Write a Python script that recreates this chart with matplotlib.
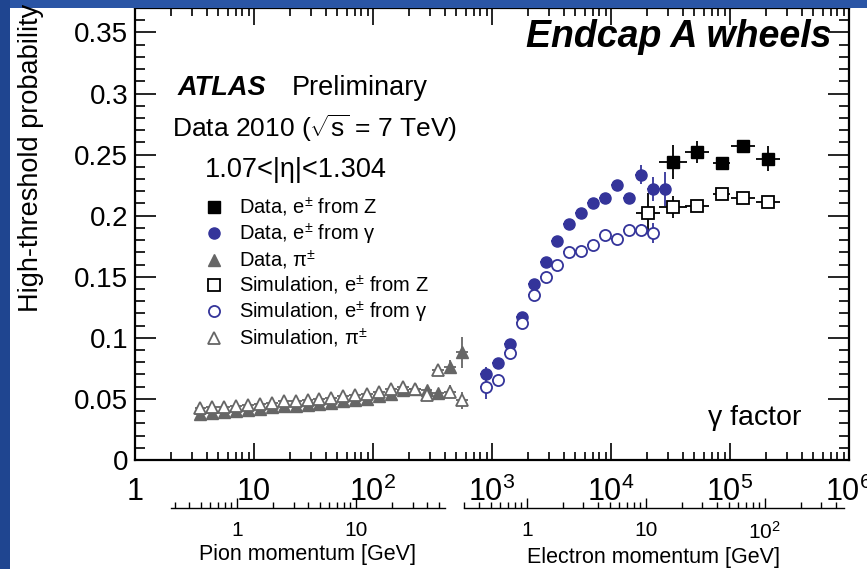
import numpy as np
import matplotlib
matplotlib.use('Agg')
import matplotlib.pyplot as plt
from matplotlib.patches import Rectangle
from matplotlib.lines import Line2D
from matplotlib.ticker import FixedLocator, FuncFormatter, LogLocator, NullFormatter, MultipleLocator

plt.rcParams['font.family'] = ['Liberation Sans', 'DejaVu Sans']
plt.rcParams['mathtext.fontset'] = 'custom'
plt.rcParams['mathtext.rm'] = 'Liberation Sans'
plt.rcParams['mathtext.it'] = 'Liberation Sans:italic'
plt.rcParams['mathtext.bf'] = 'Liberation Sans:bold'

# particle masses [GeV], gamma -> momentum
M_PION = 0.13957
M_ELEC = 0.000511

# pions: log10(gamma) bin centres
pi_lg = [0.55, 0.65, 0.75, 0.85, 0.95, 1.05, 1.15, 1.25, 1.35, 1.45, 1.55, 1.65,
         1.75, 1.85, 1.95, 2.05, 2.15, 2.25, 2.35, 2.45, 2.55, 2.65, 2.75]
pi_data = [0.038, 0.0385, 0.039, 0.040, 0.041, 0.042, 0.043, 0.044, 0.0445, 0.045, 0.046, 0.047,
           0.048, 0.049, 0.050, 0.052, 0.054, 0.057, 0.058, 0.057, 0.055, 0.076, 0.088]
pi_data_err = [0.001, 0.001, 0.001, 0.001, 0.001, 0.001, 0.001, 0.001, 0.001, 0.001, 0.001, 0.001,
               0.001, 0.001, 0.001, 0.001, 0.001, 0.001, 0.002, 0.002, 0.003, 0.006, 0.013]
pi_sim = [0.0425, 0.043, 0.0435, 0.044, 0.045, 0.046, 0.047, 0.048, 0.0485, 0.049, 0.050, 0.051,
          0.052, 0.053, 0.054, 0.056, 0.058, 0.060, 0.058, 0.053, 0.074, 0.056, 0.049]
pi_sim_err = [0.001, 0.001, 0.001, 0.001, 0.001, 0.001, 0.001, 0.001, 0.001, 0.001, 0.001, 0.001,
              0.001, 0.001, 0.001, 0.001, 0.001, 0.001, 0.001, 0.002, 0.004, 0.005, 0.007]

# electrons from photon conversions
eg_lg = [2.95, 3.05, 3.15, 3.25, 3.35, 3.45, 3.55, 3.65, 3.75, 3.85, 3.95, 4.05, 4.15, 4.25, 4.35, 4.45]
eg_data = [0.0705, 0.0795, 0.095, 0.117, 0.144, 0.162, 0.179, 0.193, 0.2025, 0.2107, 0.2148,
           0.2254, 0.2148, 0.2336, 0.222, 0.222]
eg_data_err = [0.006, 0.002, 0.002, 0.002, 0.002, 0.002, 0.002, 0.002, 0.002, 0.002, 0.002,
               0.003, 0.003, 0.008, 0.010, 0.014]
eg_sim_lg = [2.95, 3.05, 3.15, 3.25, 3.35, 3.45, 3.55, 3.65, 3.75, 3.85, 3.95, 4.05, 4.15, 4.25, 4.35]
eg_sim = [0.060, 0.0656, 0.0877, 0.112, 0.135, 0.150, 0.160, 0.170, 0.171, 0.176, 0.184, 0.181,
          0.1885, 0.188, 0.186]
eg_sim_err = [0.010, 0.002, 0.002, 0.002, 0.002, 0.002, 0.002, 0.002, 0.002, 0.002, 0.002, 0.003,
              0.004, 0.005, 0.008]

# electrons from Z decays
ez_lg = [4.52, 4.72, 4.93, 5.11, 5.32]
ez_data = [0.244, 0.2525, 0.2434, 0.2574, 0.2467]
ez_data_err = [0.014, 0.009, 0.003, 0.003, 0.010]
ez_sim_lg = [4.31, 4.52, 4.72, 4.93, 5.11, 5.32]
ez_sim = [0.2025, 0.2074, 0.208, 0.218, 0.2148, 0.2115]
ez_sim_err = [0.016, 0.009, 0.004, 0.003, 0.003, 0.005]
ez_halfbin = [0.10, 0.12, 0.10, 0.07, 0.10, 0.10]

BLUE = '#34349a'
GRAY = '#666666'
W, H = 867, 569


def fx(px):
    return px / W


def fy(py):
    return 1 - py / H


def xerrs(lg, half):
    lg = np.asarray(lg)
    half = np.asarray(half)
    g = 10 ** lg
    return g, [g - 10 ** (lg - half), 10 ** (lg + half) - g]


fig = plt.figure(figsize=(W / 100, H / 100), dpi=100)
fig.patch.set_facecolor('white')

# slide background strips
fig.patches.append(Rectangle((0, fy(8)), 1, 8 / H, transform=fig.transFigure,
                             facecolor='#2a55a5', edgecolor='none', zorder=0))
fig.patches.append(Rectangle((0, 0), fx(10), 1, transform=fig.transFigure,
                             facecolor='#1f4590', edgecolor='none', zorder=0))

AX_L, AX_R, AX_T, AX_B = 135, 849, 8, 460
ax = fig.add_axes([fx(AX_L), fy(AX_B), fx(AX_R - AX_L), (AX_B - AX_T) / H])
ax.set_xscale('log')
ax.set_xlim(1, 1e6)
ax.set_ylim(0, 0.37)

kw = dict(linestyle='none', elinewidth=1.3, capsize=0, markersize=8)
g, xe = xerrs(pi_lg, 0.05)
ax.errorbar(g, pi_data, yerr=pi_data_err, xerr=xe, marker='^', color=GRAY, **kw)
ax.errorbar(g, pi_sim, yerr=pi_sim_err, xerr=xe, marker='^', color=GRAY,
            markerfacecolor='white', markeredgewidth=1.3, **kw)
g, xe = xerrs(eg_lg, 0.05)
ax.errorbar(g, eg_data, yerr=eg_data_err, xerr=xe, marker='o', color=BLUE, **kw)
g, xe = xerrs(eg_sim_lg, 0.05)
ax.errorbar(g, eg_sim, yerr=eg_sim_err, xerr=xe, marker='o', color=BLUE,
            markerfacecolor='white', markeredgewidth=1.3, **kw)
g, xe = xerrs(ez_lg, ez_halfbin[1:])
ax.errorbar(g, ez_data, yerr=ez_data_err, xerr=xe, marker='s', color='black', **kw)
g, xe = xerrs(ez_sim_lg, ez_halfbin)
ax.errorbar(g, ez_sim, yerr=ez_sim_err, xerr=xe, marker='s', color='black',
            markerfacecolor='white', markeredgewidth=1.3, **kw)

# axes style (ROOT-like, ticks inside on all sides)
for sp in ax.spines.values():
    sp.set_linewidth(1.6)
ax.xaxis.set_major_locator(FixedLocator([1, 10, 1e2, 1e3, 1e4, 1e5, 1e6]))
ax.xaxis.set_minor_locator(LogLocator(base=10, subs=np.arange(2, 10)))
ax.xaxis.set_minor_formatter(NullFormatter())
ax.set_xticklabels(['1', '10', '10$^2$', '10$^3$', '10$^4$', '10$^5$', '10$^6$'])
ax.yaxis.set_major_locator(MultipleLocator(0.05))
ax.yaxis.set_minor_locator(MultipleLocator(0.01))
ax.yaxis.set_major_formatter(FuncFormatter(lambda v, p: '%g' % round(v, 3)))
ax.tick_params(axis='both', which='both', direction='in', top=True, right=True, width=1.2)
ax.tick_params(axis='x', which='major', length=12, pad=12, labelsize=22)
ax.tick_params(axis='x', which='minor', length=6)
ax.tick_params(axis='y', which='major', length=15, pad=5, labelsize=20)
ax.tick_params(axis='y', which='minor', length=7)
for lbl in ax.get_xticklabels():
    lbl.set_clip_on(False)

# secondary momentum axes
def momentum_axis(g_lo, g_hi, mass, ticks, labels, title):
    l = AX_L + (AX_R - AX_L) * np.log10(g_lo) / 6
    r = AX_L + (AX_R - AX_L) * np.log10(g_hi) / 6
    a = fig.add_axes([fx(l), fy(508), fx(r - l), 0.001])
    a.set_xscale('log')
    a.set_xlim(g_lo * mass, g_hi * mass)
    for s in ('left', 'right', 'top'):
        a.spines[s].set_visible(False)
    a.spines['bottom'].set_linewidth(1.0)
    a.set_yticks([])
    a.xaxis.set_major_locator(FixedLocator(ticks))
    a.xaxis.set_minor_locator(LogLocator(base=10, subs=np.arange(2, 10)))
    a.xaxis.set_minor_formatter(NullFormatter())
    a.set_xticklabels(labels)
    a.tick_params(axis='x', which='major', direction='in', length=7, width=1.0, pad=9, labelsize=15)
    a.tick_params(axis='x', which='minor', direction='in', length=4, width=1.0)
    a.set_xlabel(title, fontsize=15.5, labelpad=3)
    return a

momentum_axis(2.0, 400, M_PION, [1, 10], ['1', '10'], 'Pion momentum [GeV]')
momentum_axis(580, 9e5, M_ELEC, [1, 10, 100], ['1', '10', '10$^2$'], 'Electron momentum [GeV]')

# y axis title
fig.text(fx(31), fy(312), 'High-threshold probability', rotation=90, ha='center', va='bottom',
         fontsize=19.5)

# annotations
fig.text(fx(831), fy(37), 'Endcap A wheels', ha='right', va='center', fontsize=27,
         fontweight='bold', fontstyle='italic')
fig.text(fx(178), fy(88), 'ATLAS', ha='left', va='center', fontsize=19.5,
         fontweight='bold', fontstyle='italic')
fig.text(fx(292), fy(88), 'Preliminary', ha='left', va='center', fontsize=19.5)
fig.text(fx(172), fy(128), r'Data 2010 ($\sqrt{\mathrm{s}}$ = 7 TeV)', ha='left', va='center',
         fontsize=19)
fig.text(fx(205), fy(170), '1.07<|η|<1.304', ha='left', va='center', fontsize=19.5)
fig.text(fx(708), fy(418), 'γ factor', ha='left', va='center', fontsize=20.5)

# legend
handles = [
    Line2D([], [], linestyle='none', marker='s', color='black', markersize=8),
    Line2D([], [], linestyle='none', marker='o', color=BLUE, markersize=8),
    Line2D([], [], linestyle='none', marker='^', color=GRAY, markersize=8),
    Line2D([], [], linestyle='none', marker='s', color='black', markerfacecolor='white',
           markeredgewidth=1.3, markersize=8),
    Line2D([], [], linestyle='none', marker='o', color=BLUE, markerfacecolor='white',
           markeredgewidth=1.3, markersize=8),
    Line2D([], [], linestyle='none', marker='^', color=GRAY, markerfacecolor='white',
           markeredgewidth=1.3, markersize=8),
]
labels = [r'Data, e$^{\pm}$ from Z', r'Data, e$^{\pm}$ from γ', r'Data, π$^{\pm}$',
          r'Simulation, e$^{\pm}$ from Z', r'Simulation, e$^{\pm}$ from γ', r'Simulation, π$^{\pm}$']
leg = fig.legend(handles, labels, loc='upper left', bbox_to_anchor=(fx(204), fy(196)),
                 frameon=False, fontsize=14.5, handlelength=1.0, handletextpad=0.75,
                 labelspacing=0.1, borderpad=0, borderaxespad=0)

fig.savefig('out.png', dpi=100)
